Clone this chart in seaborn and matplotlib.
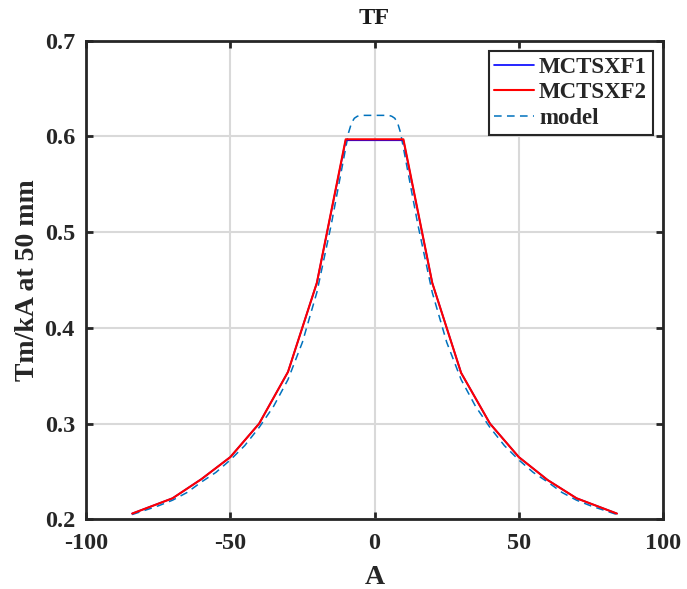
import matplotlib
matplotlib.use("Agg")
import matplotlib.pyplot as plt
import seaborn as sns
import pandas as pd

# Measured data
current = [-84, -70, -60, -50, -40, -30, -20, -10, 10, 20, 30, 40, 50, 60, 70, 84]
mctsxf1 = [0.206, 0.222, 0.242, 0.265, 0.300, 0.354, 0.447, 0.596,
           0.596, 0.447, 0.353, 0.300, 0.265, 0.241, 0.222, 0.206]
mctsxf2 = [0.206, 0.222, 0.242, 0.265, 0.300, 0.354, 0.447, 0.597,
           0.597, 0.447, 0.353, 0.300, 0.265, 0.241, 0.222, 0.206]

# Model curve
model_x = [-84, -80, -75, -70, -65, -60, -55, -50, -45, -40, -35, -30, -25, -20,
           -15, -12, -10, -9, -8, -7, -6, -5, 0,
           5, 6, 7, 8, 9, 10, 12, 15, 20, 25, 30, 35, 40, 45, 50, 55, 60, 65,
           70, 75, 80, 84]
model_y = [0.205, 0.209, 0.214, 0.220, 0.228, 0.239, 0.249, 0.262, 0.277, 0.296,
           0.318, 0.346, 0.385, 0.437, 0.508, 0.556, 0.588, 0.604, 0.614, 0.619,
           0.621, 0.622, 0.622,
           0.622, 0.621, 0.619, 0.614, 0.604, 0.588, 0.556, 0.508, 0.437, 0.385,
           0.346, 0.318, 0.296, 0.277, 0.262, 0.249, 0.239, 0.228, 0.220, 0.214,
           0.209, 0.205]

xticks = [-100, -50, 0, 50, 100]
yticks = [0.2, 0.3, 0.4, 0.5, 0.6, 0.7]

sns.set_theme(style="whitegrid")
plt.rcParams['font.family'] = ['Liberation Serif', 'DejaVu Serif']
plt.rcParams['font.weight'] = 'bold'
plt.rcParams['axes.titleweight'] = 'bold'
plt.rcParams['mathtext.default'] = 'regular'

fig = plt.figure(figsize=(6.87, 5.89), dpi=100)
ax = fig.add_axes([0.1252, 0.1183, 0.8400, 0.8126])

df1 = pd.DataFrame({"A": current, "v": mctsxf1})
df2 = pd.DataFrame({"A": current, "v": mctsxf2})
dfm = pd.DataFrame({"A": model_x, "v": model_y})

sns.lineplot(data=dfm, x="A", y="v", ax=ax, color="#0072BD", linestyle=(0, (5, 3.5)),
             linewidth=1.1, label="model", sort=False, zorder=2)
sns.lineplot(data=df1, x="A", y="v", ax=ax, color="#0000FF", linewidth=1.2,
             label="MCTSXF1", sort=False, zorder=3)
sns.lineplot(data=df2, x="A", y="v", ax=ax, color="#FF0000", linewidth=1.5,
             label="MCTSXF2", sort=False, zorder=4)

ax.set_xlim(-100, 100)
ax.set_ylim(0.2, 0.7)
ax.set_xticks(xticks)
ax.set_yticks(yticks)
ax.set_xticklabels([str(t) for t in xticks])
ax.set_yticklabels([f"{t:.1f}" for t in yticks])

ax.grid(True, color="#d9d9d9", linewidth=1.5)
for s in ax.spines.values():
    s.set_visible(True)
    s.set_color("#262626")
    s.set_linewidth(2.0)
ax.tick_params(axis='both', which='both', direction='in', length=5, width=2,
               color="#262626", labelsize=17.5, labelcolor="#262626",
               top=True, right=True, bottom=True, left=True, pad=8)
ax.tick_params(axis='x', pad=10)
for lab in ax.get_xticklabels() + ax.get_yticklabels():
    lab.set_fontweight('bold')

ax.set_title("TF", fontsize=17.5, fontweight='bold', color="#1a1a1a", pad=12)
ax.set_xlabel("A", fontsize=20, fontweight='bold', color="#262626", labelpad=8)
ax.set_ylabel("Tm/kA at 50 mm", fontsize=20, fontweight='bold', color="#262626", labelpad=3)

handles, labels = ax.get_legend_handles_labels()
order = [labels.index("MCTSXF1"), labels.index("MCTSXF2"), labels.index("model")]
leg = ax.legend([handles[i] for i in order], [labels[i] for i in order],
                loc="upper right", fancybox=False, framealpha=1,
                prop={'family': 'Liberation Serif', 'weight': 'bold', 'size': 16.5},
                handlelength=1.75, handletextpad=0.2, borderpad=0.25,
                labelspacing=0.2, borderaxespad=0.45)
leg.get_frame().set_edgecolor("#262626")
leg.get_frame().set_linewidth(1.5)

fig.savefig("out.png", dpi=100)
